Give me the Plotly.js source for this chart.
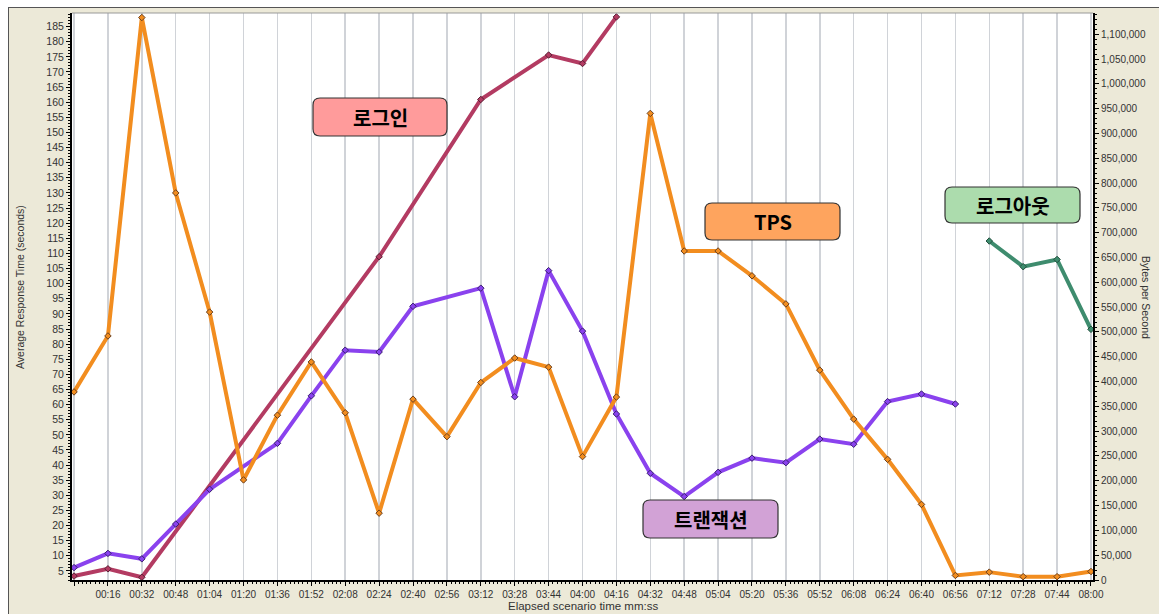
<!DOCTYPE html>
<html>
<head>
<meta charset="utf-8">
<script src="https://cdn.plot.ly/plotly-3.0.1.min.js"></script>
<style>
  html, body { margin: 0; padding: 0; background: #ffffff; }
  #chart {
    position: absolute; left: 8px; top: 7px;
    width: 1150px; height: 606px;
    border-left: 1px solid #555; border-top: 1px solid #555;
  }
</style>
</head>
<body>
<div id="chart"></div>
<script>
// Merged LoadRunner-style graph: response times + bytes per second axis.
const timeLabels = ['00:00', '00:16', '00:32', '00:48', '01:04', '01:20', '01:36', '01:52',
  '02:08', '02:24', '02:40', '02:56', '03:12', '03:28', '03:44', '04:00', '04:16', '04:32',
  '04:48', '05:04', '05:20', '05:36', '05:52', '06:08', '06:24', '06:40', '06:56', '07:12',
  '07:28', '07:44', '08:00'];

const tps = [64.2, 82.7, 188, 130, 90.6, 35.1, 56.5, 74.1, 57.3, 24.1, 61.8, 49.4, 67.3, 75.4,
  72.4, 42.8, 62.5, 156.3, 110.8, 110.8, 102.6, 93.3, 71.4, 55.2, 41.9, 27, 3.5, 4.6, 3.1, 3.1, 4.8];

const login = [3.3, 5.7, 2.9, null, null, null, null, null, null, 108.9, null, null, 160.9, null,
  175.6, 172.8, 188.2, null, null, null, null, null, null, null, null, null, null, null, null, null, null];

const transaction = [6.1, 10.8, 9, 20.5, 32, null, 47.2, 62.9, 78, 77.4, 92.5, null, 98.5, 62.6,
  104.3, 84.3, 56.9, 37.3, 29.6, 37.6, 42.3, 40.8, 48.6, 46.9, 61, 63.5, 60.2, null, null, null, null];

const logout = [null, null, null, null, null, null, null, null, null, null, null, null, null, null,
  null, null, null, null, null, null, null, null, null, null, null, null, null, 114.1, 105.6, 108, 84.9];

const labels = [
  { text: '로그인', fill: '#ff9b9b', box: [313, 98, 447, 136] },
  { text: 'TPS', fill: '#fea45e', box: [705, 203, 840, 240] },
  { text: '로그아웃', fill: '#acdcad', box: [945, 187, 1080, 223] },
  { text: '트랜잭션', fill: '#d2a2d6', box: [643, 500, 778, 538] },
];

const xs = timeLabels.map((_, i) => i);

// plot area in page pixels, used to place the label boxes and titles
const PX = { l: 72, r: 1093, t: 13, b: 580 };
const px2x = p => (p - PX.l) / (PX.r - PX.l);
const px2y = p => (PX.b - p) / (PX.b - PX.t);

function roundedBox([x0, y0, x1, y1], r) {
  const X = px2x, Y = px2y;
  return `M ${X(x0 + r)} ${Y(y0)} L ${X(x1 - r)} ${Y(y0)} Q ${X(x1)} ${Y(y0)} ${X(x1)} ${Y(y0 + r)} ` +
    `L ${X(x1)} ${Y(y1 - r)} Q ${X(x1)} ${Y(y1)} ${X(x1 - r)} ${Y(y1)} ` +
    `L ${X(x0 + r)} ${Y(y1)} Q ${X(x0)} ${Y(y1)} ${X(x0)} ${Y(y1 - r)} ` +
    `L ${X(x0)} ${Y(y0 + r)} Q ${X(x0)} ${Y(y0)} ${X(x0 + r)} ${Y(y0)} Z`;
}

function series(y, color, markerLine) {
  return {
    type: 'scatter', mode: 'lines+markers', x: xs, y,
    connectgaps: true, hoverinfo: 'skip', showlegend: false,
    line: { color, width: 4 },
    marker: { symbol: 'diamond', size: 5, color, line: { color: markerLine, width: 1 } },
  };
}

const traces = [
  series(login, '#b33b62', '#5a2035'),
  series(transaction, '#8a42ee', '#3a2070'),
  series(tps, '#f28d1f', '#6a4020'),
  series(logout, '#3e8c6e', '#24503f'),
  { type: 'scatter', x: [], y: [], yaxis: 'y2', showlegend: false, hoverinfo: 'skip' },
];

const sans = 'Liberation Sans, Arial, sans-serif';
const tickFont = { family: sans, size: 10, color: '#333' };
const cjk = '"Noto Sans CJK KR", "Liberation Sans", sans-serif';

const shapes = [
  { type: 'line', xref: 'paper', yref: 'paper', x0: 0, x1: 1, y0: 1, y1: 1,
    line: { color: '#999', width: 1 } },
  ...labels.map(l => ({
    type: 'path', xref: 'paper', yref: 'paper', layer: 'above',
    path: roundedBox(l.box, 7), fillcolor: l.fill, line: { color: '#333', width: 1.2 },
  })),
];

function note(px, py, text, font, angle = 0) {
  return {
    xref: 'paper', yref: 'paper', showarrow: false,
    x: px2x(px), y: px2y(py), xanchor: 'center', yanchor: 'middle',
    textangle: angle, text, font,
  };
}

const annotations = [
  ...labels.map(l => note((l.box[0] + l.box[2]) / 2, (l.box[1] + l.box[3]) / 2,
    '<b>' + l.text + '</b>', { family: cjk, size: 20, color: '#000' })),
  note(20, 287, 'Average Response Time (seconds)', { family: sans, size: 10.5, color: '#333' }, -90),
  note(1146, 297, 'Bytes per Second', { family: sans, size: 10.5, color: '#333' }, 90),
  note(583, 606, 'Elapsed scenario time mm:ss', { family: sans, size: 11.5, color: '#333' }),
];

const layout = {
  width: 1150, height: 606,
  margin: { l: 63, r: 66, t: 5, b: 34 },
  paper_bgcolor: '#ece9d8',
  plot_bgcolor: '#ffffff',
  xaxis: {
    range: [-0.06, 30.06],
    tickmode: 'array', tickvals: xs, ticktext: timeLabels.map((t, i) => i === 0 ? '' : t),
    showgrid: true, gridcolor: '#d0d3d8', gridwidth: 1.5,
    zeroline: false, showline: true, linecolor: '#000', linewidth: 2,
    ticks: 'outside', ticklen: 4, tickcolor: '#000', tickfont: tickFont,
    minor: { dtick: 0.125, ticks: 'outside', ticklen: 2, tickcolor: '#000', showgrid: false },
  },
  yaxis: {
    range: [2, 189.5], tick0: 0, dtick: 5,
    showgrid: false, zeroline: false, showline: true, linecolor: '#000', linewidth: 2,
    ticks: 'outside', ticklen: 4, tickcolor: '#000',
    tickfont: { ...tickFont, size: 10.5 },
    minor: { dtick: 1, ticks: 'outside', ticklen: 2, tickcolor: '#000', showgrid: false },
  },
  yaxis2: {
    overlaying: 'y', side: 'right', range: [0, 1143000], tick0: 0, dtick: 50000,
    tickformat: ',d',
    showgrid: false, zeroline: false, showline: true, linecolor: '#000', linewidth: 2,
    ticks: 'outside', ticklen: 4, tickcolor: '#000', tickfont: tickFont,
    minor: { dtick: 10000, ticks: 'outside', ticklen: 2, tickcolor: '#000', showgrid: false },
  },
  shapes,
  annotations,
};

Plotly.newPlot('chart', traces, layout, { displayModeBar: false, staticPlot: true });
</script>
</body>
</html>
